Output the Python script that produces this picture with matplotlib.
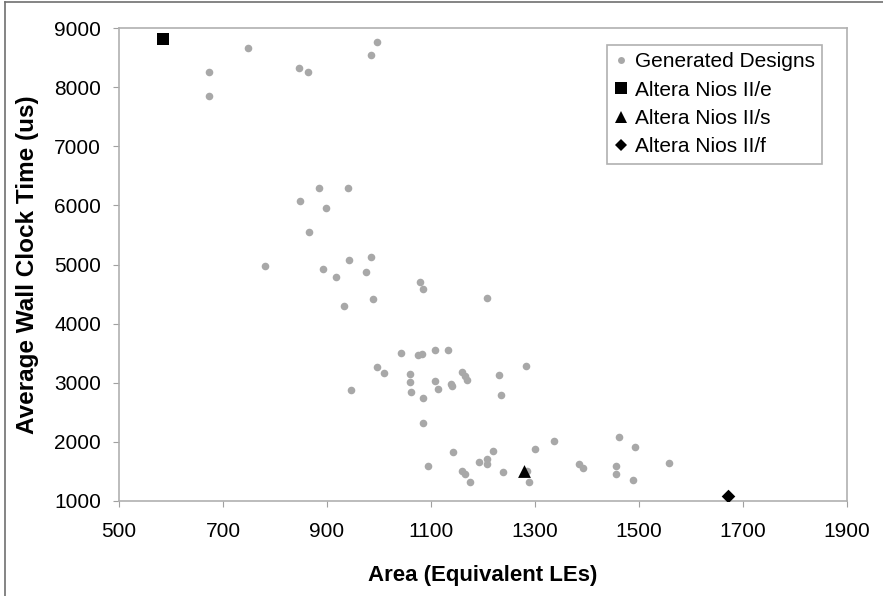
import matplotlib
matplotlib.use("Agg")
import matplotlib.pyplot as plt
from matplotlib.lines import Line2D

plt.rcParams["font.family"] = ["Liberation Sans", "DejaVu Sans"]

# generated designs (area in equivalent LEs, avg wall clock time in us)
gen_area = [748, 673, 674, 846, 864, 997, 984, 884, 941, 849, 898, 866, 780,
            942, 984, 893, 975, 917, 932, 989, 1079, 1085, 1208, 1042, 1076,
            1083, 1107, 1132, 997, 1010, 1059, 1059, 1062, 947, 1085, 1084,
            1108, 1113, 1138, 1141, 1160, 1165, 1170, 1232, 1235, 1283, 1143,
            1095, 1160, 1166, 1175, 1193, 1208, 1208, 1220, 1239, 1284, 1288,
            1300, 1337, 1385, 1392, 1462, 1493, 1456, 1457, 1489, 1558]
gen_time = [8670, 8255, 7845, 8330, 8255, 8760, 8540, 6290, 6290, 6080, 5950,
            5545, 4975, 5075, 5130, 4920, 4875, 4795, 4305, 4410, 4710, 4590,
            4440, 3510, 3475, 3480, 3550, 3560, 3260, 3170, 3155, 3010, 2850,
            2885, 2745, 2320, 3035, 2895, 2985, 2950, 3190, 3110, 3050, 3130,
            2790, 3290, 1835, 1600, 1505, 1455, 1325, 1660, 1715, 1625, 1845,
            1495, 1500, 1325, 1875, 2015, 1620, 1565, 2080, 1920, 1585, 1455,
            1355, 1635]

# Altera reference cores
nios_e = (585, 8810)
nios_s = (1280, 1500)
nios_f = (1671, 1090)

x_ticks = [500, 700, 900, 1100, 1300, 1500, 1700, 1900]
y_ticks = [1000, 2000, 3000, 4000, 5000, 6000, 7000, 8000, 9000]

W, H = 883, 596
fig = plt.figure(figsize=(W / 100, H / 100), dpi=100)
ax = fig.add_axes([119 / W, (H - 501) / H, 727.7 / W, 473 / H])

ax.scatter(gen_area, gen_time, s=30, color="#a8a8a8", linewidths=0, zorder=2)
ax.scatter(*nios_e, marker="s", s=75, color="black", linewidths=0, zorder=3)
ax.scatter(*nios_s, marker="^", s=85, color="black", linewidths=0, zorder=3)
ax.scatter(*nios_f, marker="D", s=48, color="black", linewidths=0, zorder=3)

ax.set_xlim(500, 1900)
ax.set_ylim(1000, 9000)
ax.set_xticks(x_ticks)
ax.set_yticks(y_ticks)
ax.tick_params(direction="out", length=4, color="#a0a0a0", labelsize=15)
ax.tick_params(axis="x", pad=11)
ax.tick_params(axis="y", pad=9)
for sp in ax.spines.values():
    sp.set_color("#b0b0b0")
    sp.set_linewidth(1.2)

ax.set_xlabel("Area (Equivalent LEs)", fontsize=16, fontweight="bold")
ax.set_ylabel("Average Wall Clock Time (us)", fontsize=17.5, fontweight="bold")
ax.xaxis.set_label_coords(0.5, -0.135)
ax.yaxis.set_label_coords(-0.11, 0.5)

handles = [
    Line2D([], [], ls="", marker="o", ms=5, color="#a8a8a8", mew=0),
    Line2D([], [], ls="", marker="s", ms=8, color="black", mew=0),
    Line2D([], [], ls="", marker="^", ms=9, color="black", mew=0),
    Line2D([], [], ls="", marker="D", ms=6, color="black", mew=0),
]
labels = ["Generated Designs", "Altera Nios II/e", "Altera Nios II/s",
          "Altera Nios II/f"]
leg = ax.legend(handles, labels, loc="upper right",
                bbox_to_anchor=(0.966, 0.964), borderaxespad=0,
                fontsize=15, fancybox=False, framealpha=1,
                handlelength=0.7, handletextpad=0.3, labelspacing=0.45,
                borderpad=0.35)
leg.get_frame().set_edgecolor("#b0b0b0")
leg.get_frame().set_linewidth(1.2)

# thin border at the top and left edge of the image
fig.add_artist(Line2D([5 / W, 1], [1 - 2 / H, 1 - 2 / H],
                      transform=fig.transFigure, color="#707070", lw=1.2))
fig.add_artist(Line2D([5 / W, 5 / W], [0, 1 - 2 / H],
                      transform=fig.transFigure, color="#707070", lw=1.2))

fig.savefig("out.png", dpi=100)
